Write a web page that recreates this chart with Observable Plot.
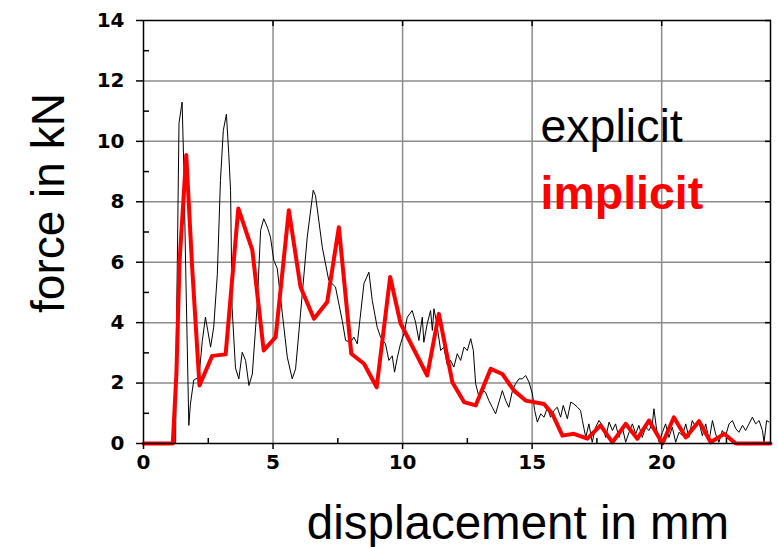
<!DOCTYPE html>
<html><head><meta charset="utf-8">
<script src="https://cdn.jsdelivr.net/npm/d3@7"></script>
<script src="https://cdn.jsdelivr.net/npm/@observablehq/plot@0.6"></script>
<style>
body{margin:0;background:#fff;}
#chart svg{display:block;}
</style>
</head><body><div id="chart"></div>
<script>
// displacement (mm), force (kN)
const explicitPoints = [
[0,0],[1.24,0],[1.27,3.5],[1.37,10.6],[1.49,11.3],[1.56,9.04],[1.62,6.17],[1.75,0.6],[1.81,1.3],[1.94,2.1],
[2.14,2.2],[2.27,3.4],[2.39,4.18],[2.48,3.74],[2.59,3.19],[2.71,3.85],[2.85,5.6],[2.97,8.7],[3.08,10.36],[3.2,10.9],
[3.29,9.6],[3.36,8.38],[3.42,4.5],[3.55,2.5],[3.68,2.14],[3.81,3.02],[3.94,2.75],[4.07,1.92],[4.2,2.3],[4.39,4.6],
[4.52,7.05],[4.64,7.44],[4.78,7.16],[4.9,6.83],[5.03,6.06],[5.16,5.8],[5.36,4.29],[5.55,2.86],[5.74,2.14],[5.87,2.47],
[6.06,4.29],[6.32,6.83],[6.55,8.38],[6.64,8.2],[6.9,6.5],[7.15,5.4],[7.41,5.18],[7.67,4.07],[7.8,3.41],[7.99,3.35],
[8.12,3.52],[8.25,3.3],[8.51,5.3],[8.7,5.67],[8.83,4.73],[9.02,3.85],[9.15,3.52],[9.34,3.3],[9.47,2.75],[9.6,2.9],
[9.69,2.36],[9.8,2.86],[9.92,3.3],[10.05,3.63],[10.18,4.18],[10.37,4.4],[10.5,4.02],[10.63,3.41],[10.76,4.18],[10.82,3.35],
[10.95,3.96],[11.08,4.4],[11.15,3.74],[11.21,4.46],[11.31,4.02],[11.47,3.08],[11.59,3.19],[11.73,2.58],[11.85,2.75],[11.98,2.53],
[12.11,2.97],[12.24,2.75],[12.37,3.19],[12.5,3.08],[12.63,3.47],[12.73,3.08],[12.82,1.98],[12.95,1.53],[13.08,1.75],[13.2,1.7],
[13.33,1.42],[13.46,1.2],[13.59,0.98],[13.72,1.37],[13.85,1.75],[13.98,1.42],[14.1,1.2],[14.24,1.75],[14.36,1.98],[14.49,2.14],
[14.62,2.14],[14.75,2.25],[14.88,2.03],[15.01,1.64],[15.1,1.09],[15.2,0.71],[15.33,0.98],[15.46,0.87],[15.59,1.2],[15.71,0.87],
[15.84,1.09],[15.97,1.2],[16.1,0.87],[16.2,1.26],[16.36,0.82],[16.49,1.37],[16.61,1.31],[16.75,1.2],[16.87,1.09],[16.94,0.76],
[17.07,0.2],[17.19,0.65],[17.32,0.04],[17.45,0.54],[17.58,0.76],[17.71,0.6],[17.84,0.2],[17.97,0.71],[18.1,0.43],[18.22,0.65],
[18.35,0.2],[18.48,0.54],[18.61,0.04],[18.74,0.37],[18.87,0.65],[19.0,0.32],[19.12,0.6],[19.25,0.2],[19.38,0.54],[19.51,0.43],
[19.64,0.65],[19.7,1.15],[19.81,0.43],[19.9,0.04],[20.03,0.37],[20.15,0.65],[20.28,0.2],[20.41,0.54],[20.54,0.04],[20.67,0.37],
[20.8,0.26],[20.93,0.65],[21.05,0.2],[21.18,0.76],[21.31,0.54],[21.44,0.71],[21.57,0.26],[21.7,0.65],[21.83,0.1],[21.96,0.76],
[22.08,0.32],[22.21,0.04],[22.34,0.43],[22.47,0.26],[22.6,0.65],[22.73,0.76],[22.86,0.49],[22.98,0.37],[23.12,0.6],[23.24,0.43],
[23.37,0.65],[23.5,0.87],[23.63,0.65],[23.76,0.76],[23.89,0.43],[23.95,0.04],[24.05,0.76],[24.14,0.71]
];
const implicitPoints = [
[0,0],[1.13,0],[1.27,2.3],[1.39,6],[1.65,9.55],[1.88,5.8],[2.16,1.92],[2.65,2.9],[3.17,2.95],[3.66,7.78],
[4.2,6.4],[4.64,3.08],[5.1,3.52],[5.61,7.72],[6.06,5.18],[6.58,4.13],[7.09,4.68],[7.54,7.16],[8.02,2.97],[8.51,2.64],
[9.0,1.86],[9.52,5.51],[9.92,3.98],[10.95,2.25],[11.4,4.29],[11.92,2.03],[12.37,1.37],[12.82,1.26],[13.4,2.47],[13.85,2.3],
[14.3,1.75],[14.75,1.42],[15.46,1.31],[15.78,0.98],[16.17,0.26],[16.61,0.32],[17.13,0.16],[17.64,0.6],[18.1,0.04],[18.61,0.65],
[19.06,0.16],[19.51,0.76],[20.03,0],[20.47,0.87],[20.93,0.2],[21.44,0.74],[21.89,0.04],[22.41,0.32],[22.86,0],[24.2,0]
];
const seriesNames = ["explicit", "implicit"];
const seriesColors = ["#000000", "#ff0000"];
const xDomain = [0, 24.2];
const yDomain = [0, 14];
const xTicks = [0, 5, 10, 15, 20];
const xMinorTicks = [2.5, 7.5, 12.5, 17.5, 22.5];
const yTicks = [0, 2, 4, 6, 8, 10, 12, 14];
const yMinorTicks = [1, 3, 5, 7, 9, 11, 13];
const xLabel = "displacement in mm";
const yLabel = "force in kN";

const toRows = pts => pts.map(([x, y]) => ({x, y}));

const chart = Plot.plot({
  width: 778,
  height: 547,
  marginLeft: 143,
  marginRight: 8,
  marginTop: 20,
  marginBottom: 104,
  style: {fontFamily: "DejaVu Sans", fontSize: "20px", fontWeight: "bold", color: "#000", background: "#fff"},
  x: {domain: xDomain},
  y: {domain: yDomain},
  marks: [
    Plot.gridX(xTicks.filter(d => d > 0), {stroke: "#8c8c8c", strokeOpacity: 1, strokeWidth: 1.5}),
    Plot.gridY(yTicks.filter(d => d > 0 && d < 14), {stroke: "#8c8c8c", strokeOpacity: 1, strokeWidth: 1.5}),
    Plot.line(toRows(explicitPoints), {x: "x", y: "y", stroke: seriesColors[0], strokeWidth: 1}),
    Plot.line(toRows(implicitPoints), {x: "x", y: "y", stroke: seriesColors[1], strokeWidth: 4}),
    Plot.frame({stroke: "#000", strokeWidth: 1.5}),
    Plot.axisX({ticks: xTicks, tickSize: 6, tickPadding: 5, label: null, tickFormat: d => String(d), strokeWidth: 1.5}),
    Plot.axisX({ticks: xMinorTicks, tickSize: -5, text: null, label: null, strokeWidth: 1.5}),
    Plot.axisX({anchor: "top", ticks: xTicks.filter(d => d > 0), tickSize: -5, text: null, label: null, strokeWidth: 1.5}),
    Plot.axisY({ticks: yTicks, tickSize: 7, tickPadding: 12, label: null, tickFormat: d => String(d), strokeWidth: 1.5}),
    Plot.axisY({ticks: yMinorTicks, tickSize: -6, text: null, label: null, strokeWidth: 1.5}),
    Plot.axisY({anchor: "right", ticks: yTicks, tickSize: -6, text: null, label: null, strokeWidth: 1.5}),
    Plot.text([xLabel], {text: d => d, frameAnchor: "bottom", dx: 61, dy: 95, lineAnchor: "bottom", textAnchor: "middle",
      fontFamily: "Liberation Sans", fontSize: 47.5, fontWeight: "normal", fill: "#000"}),
    Plot.text([yLabel], {text: d => d, frameAnchor: "left", dx: -80, dy: -29, rotate: -90, lineAnchor: "bottom", textAnchor: "middle",
      fontFamily: "Liberation Sans", fontSize: 46, fontWeight: "normal", fill: "#000"}),
    Plot.text([seriesNames[0]], {text: d => d, frameAnchor: "top-left", dx: 397, dy: 121, lineAnchor: "bottom", textAnchor: "start",
      fontFamily: "Liberation Sans", fontSize: 46.5, fontWeight: "normal", fill: seriesColors[0]}),
    Plot.text([seriesNames[1]], {text: d => d, frameAnchor: "top-left", dx: 397, dy: 188, lineAnchor: "bottom", textAnchor: "start",
      fontFamily: "Liberation Sans", fontSize: 46.5, fontWeight: "bold", fill: seriesColors[1]})
  ]
});
document.getElementById("chart").appendChild(chart);
</script>
</body></html>
